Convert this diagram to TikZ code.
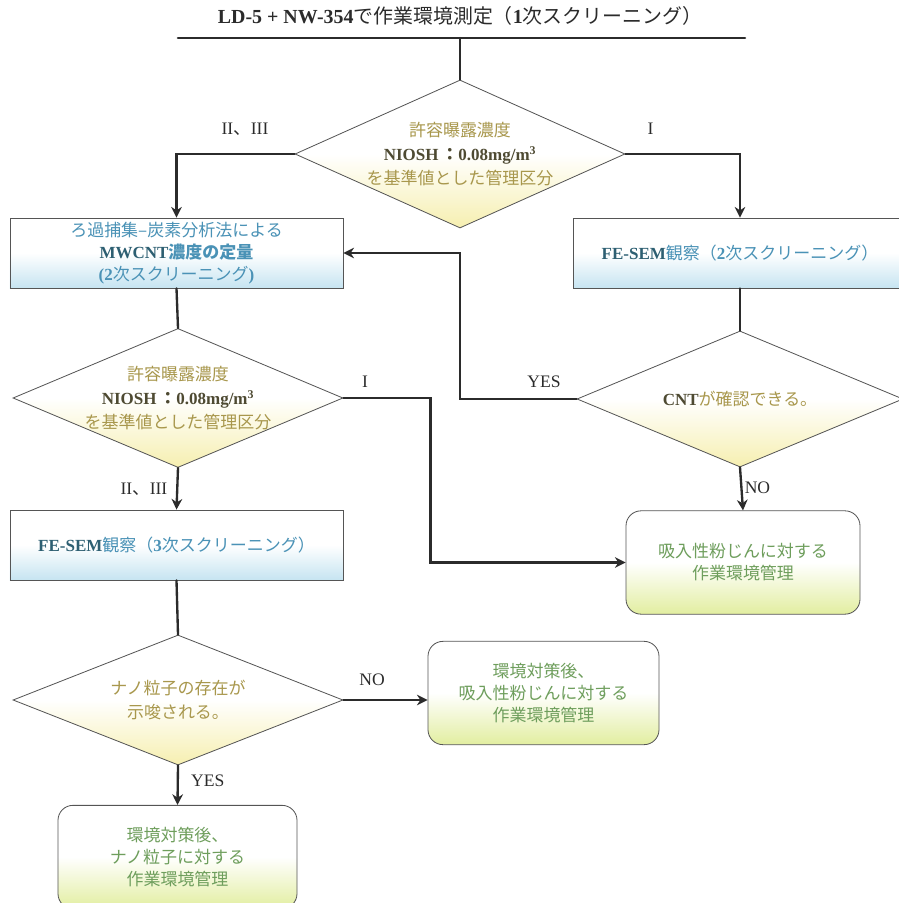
\documentclass[tikz,border=0pt]{standalone}
\usepackage{fontspec}
\setmainfont{Noto Sans CJK JP}
\newfontfamily\latinserif{Liberation Serif}
\newfontfamily\jpfont{Noto Sans CJK JP}
\usetikzlibrary{arrows.meta,shapes.geometric}
\definecolor{flowink}{HTML}{2B2B2B}
\definecolor{flowedge}{HTML}{555555}
\definecolor{diayellow}{HTML}{F6EFB0}
\definecolor{diatext}{HTML}{A8974C}
\definecolor{diadark}{HTML}{4E4A32}
\definecolor{boxblue}{HTML}{C6E4F1}
\definecolor{boxtext}{HTML}{4A92B6}
\definecolor{boxdark}{HTML}{2D5F72}
\definecolor{mgmtgreen}{HTML}{E2EEA0}
\definecolor{mgmttext}{HTML}{6E9E5C}
\newcommand\flowfont{\fontsize{14.5}{18.8}\selectfont}
\newcommand\diafont{\fontsize{14.5}{20.5}\selectfont}
\newcommand\flowlabelfont{\fontsize{15}{18}\selectfont\latinserif}
\newcommand\niosh{{\color{diadark}\latinserif\bfseries NIOSH\,{\jpfont ：}0.08mg/m\textsuperscript{3}}}

\begin{document}
\begin{tikzpicture}[x=0.03cm,y=-0.03cm,>=Stealth,line cap=round,
  flow/.style={flowink,line width=2pt},
  arrowflow/.style={flow,-{Stealth[length=3.2mm,width=3.2mm]}},
  decision/.style={diamond,draw=flowedge,line width=.7pt,inner sep=0pt,
    top color=white,bottom color=diayellow,middle color=white},
  qtext/.style={text=diatext,align=center,font=\diafont,inner sep=0pt},
  stagebox/.style={rectangle,draw=flowedge,line width=.7pt,align=center,
    top color=white,bottom color=boxblue,middle color=white,
    text=boxtext,font=\flowfont,minimum width=9.99cm,minimum height=2.1cm},
  mgmtbox/.style={rectangle,rounded corners=.45cm,draw=flowedge,line width=.7pt,
    align=center,top color=white,bottom color=mgmtgreen,middle color=white,
    text=mgmttext,font=\flowfont,minimum height=3.1cm},
  lbl/.style={text=flowink,font=\flowlabelfont,inner sep=0pt}]
  \useasboundingbox (0,0) rectangle (898,903);

  % first screening
  \node[font=\fontsize{17}{20}\selectfont,text=flowink] (title) at (460,16)
    {{\latinserif\bfseries LD-5 + NW-354}で作業環境測定（{\latinserif\bfseries 1}次スクリーニング）};
  \coordinate (bar l) at (178,38);
  \coordinate (bar r) at (745,38);
  \coordinate (bar m) at (460,38);

  \node[decision,minimum width=9.9cm,minimum height=4.44cm] (q1) at (460,154) {};
  \node[qtext] (q1 text) at (q1) {許容曝露濃度\\ \niosh\\を基準値とした管理区分};

  % second screening
  \node[stagebox] (mwcnt) at (176.5,253)
    {ろ過捕集–炭素分析法による\\
     {\latinserif\bfseries\color{boxdark}MWCNT}{\bfseries 濃度の定量}\\
     {\latinserif\bfseries (2}次スクリーニング{\latinserif\bfseries )}};
  \node[stagebox] (fesem2) at (740,253)
    {{\latinserif\bfseries\color{boxdark}FE-SEM}観察（{\latinserif\bfseries 2}次スクリーニング）};

  \node[decision,minimum width=9.9cm,minimum height=4.17cm] (q2) at (178,398) {};
  \node[qtext] (q2 text) at (q2) {許容曝露濃度\\ \niosh\\を基準値とした管理区分};
  \node[decision,minimum width=9.78cm,minimum height=4.08cm] (q3) at (740,399) {};
  \node[qtext] (q3 text) at (q3) {{\color{diadark}\latinserif\bfseries CNT}が確認できる。};

  \node[mgmtbox,minimum width=7.02cm] (dust) at (743,562.5)
    {吸入性粉じんに対する\\作業環境管理};

  % third screening
  \node[stagebox] (fesem3) at (176.5,545)
    {{\latinserif\bfseries\color{boxdark}FE-SEM}観察（{\latinserif\bfseries 3}次スクリーニング）};
  \node[decision,minimum width=9.9cm,minimum height=3.9cm] (q4) at (178,700) {};
  \node[qtext] (q4 text) at (q4) {ナノ粒子の存在が\\示唆される。};

  \node[mgmtbox,minimum width=6.93cm] (treat) at (543.5,693)
    {環境対策後、\\吸入性粉じんに対する\\作業環境管理};
  \node[mgmtbox,minimum width=7.17cm] (nano) at (177.5,857)
    {環境対策後、\\ナノ粒子に対する\\作業環境管理};
  \coordinate (back) at (460,253);

  % connectors
  \draw[flowink,line width=2.2pt] (bar l) -- (bar r);
  \draw[flow] (bar m) -- (q1.north);
  \draw[arrowflow] (q1.west) -| node[lbl,pos=.21,yshift=.75cm] {II{\jpfont 、}III} (mwcnt.north);
  \draw[arrowflow] (q1.east) -| node[lbl,pos=.11,yshift=.75cm] {I} (fesem2.north);
  \draw[flow] (mwcnt.south) -- (q2.north);
  \draw[flow] (fesem2.south) -- (q3.north);
  \draw[arrowflow] (q3.west) -| node[lbl,pos=.14,yshift=.52cm] {YES} (back) -- (mwcnt.east);
  \draw[arrowflow] (q3.south) -- node[lbl,pos=.48,xshift=.48cm] {NO} (dust.north);
  \draw[arrowflow] (q2.south) -- node[lbl,pos=.5,xshift=-1cm] {II{\jpfont 、}III} (fesem3.north);
  \draw[arrowflow] (q2.east) -- node[lbl,pos=.25,yshift=.48cm] {I} ++(87,0) |- (dust.west);
  \draw[flow] (fesem3.south) -- (q4.north);
  \draw[arrowflow] (q4.east) -- node[lbl,pos=.34,yshift=.6cm] {NO} (q4.east -| treat.west);
  \draw[arrowflow] (q4.south) -- node[lbl,pos=.4,xshift=.9cm] {YES} (nano.north);
\end{tikzpicture}
\end{document}
